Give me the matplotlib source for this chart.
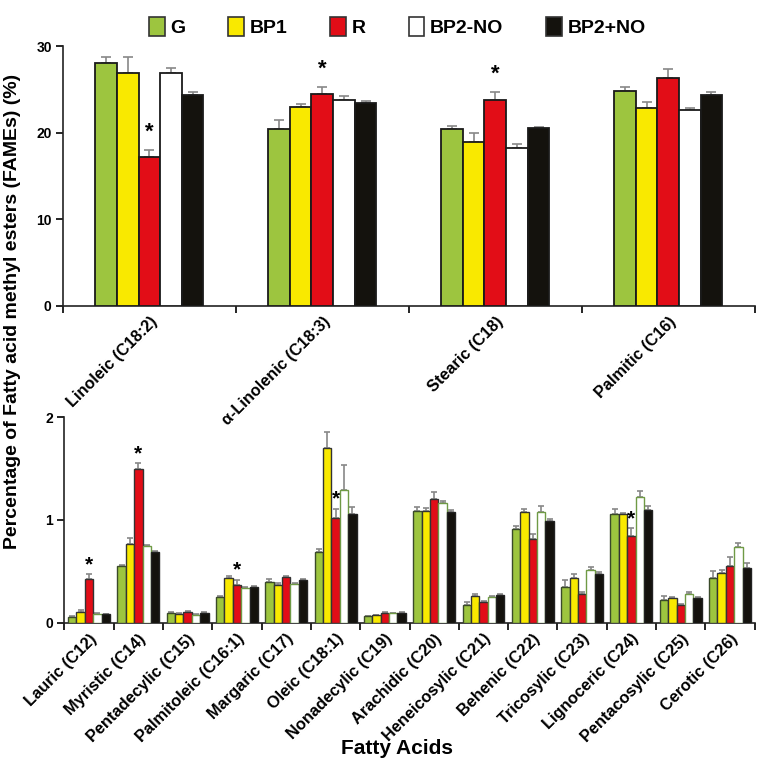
import numpy as np
import matplotlib.pyplot as plt
from matplotlib.patches import Patch

plt.rcParams['font.family'] = ['Liberation Sans', 'DejaVu Sans']
plt.rcParams['font.weight'] = 'bold'

groups = ['G', 'BP1', 'R', 'BP2-NO', 'BP2+NO']
colors = ['#9dc53f', '#f9e900', '#e20d17', '#ffffff', '#14120d']

# --- major fatty acids (top panel) ---
major_acids = ['Linoleic (C18:2)', 'α-Linolenic (C18:3)', 'Stearic (C18)', 'Palmitic (C16)']
major_vals = {
    'G':      [28.0, 20.4, 20.4, 24.8],
    'BP1':    [26.9, 23.0, 18.9, 22.8],
    'R':      [17.2, 24.5, 23.8, 26.3],
    'BP2-NO': [26.9, 23.8, 18.2, 22.6],
    'BP2+NO': [24.3, 23.4, 20.5, 24.4],
}
major_err = {
    'G':      [0.7, 1.1, 0.4, 0.5],
    'BP1':    [1.8, 0.3, 1.0, 0.7],
    'R':      [0.8, 0.8, 0.9, 1.0],
    'BP2-NO': [0.6, 0.4, 0.5, 0.3],
    'BP2+NO': [0.4, 0.3, 0.1, 0.3],
}
major_sig = [0, 1, 2]  # R bar marked with *

# --- minor fatty acids (bottom panel) ---
minor_acids = ['Lauric (C12)', 'Myristic (C14)', 'Pentadecylic (C15)', 'Palmitoleic (C16:1)',
               'Margaric (C17)', 'Oleic (C18:1)', 'Nonadecylic (C19)', 'Arachidic (C20)',
               'Heneicosylic (C21)', 'Behenic (C22)', 'Tricosylic (C23)', 'Lignoceric (C24)',
               'Pentacosylic (C25)', 'Cerotic (C26)']
minor_vals = {
    'G':      [0.06, 0.55, 0.10, 0.25, 0.40, 0.69, 0.065, 1.09, 0.17, 0.91, 0.35, 1.06, 0.22, 0.44],
    'BP1':    [0.11, 0.77, 0.09, 0.44, 0.37, 1.70, 0.075, 1.085, 0.26, 1.075, 0.44, 1.055, 0.245, 0.48],
    'R':      [0.43, 1.495, 0.11, 0.37, 0.45, 1.02, 0.10, 1.20, 0.20, 0.815, 0.28, 0.845, 0.175, 0.55],
    'BP2-NO': [0.09, 0.75, 0.08, 0.34, 0.38, 1.29, 0.095, 1.16, 0.25, 1.08, 0.51, 1.22, 0.285, 0.74],
    'BP2+NO': [0.085, 0.69, 0.10, 0.345, 0.42, 1.055, 0.10, 1.08, 0.27, 0.99, 0.475, 1.10, 0.24, 0.53],
}
minor_err = {
    'G':      [0.01, 0.01, 0.005, 0.01, 0.03, 0.03, 0.005, 0.04, 0.03, 0.03, 0.07, 0.05, 0.04, 0.06],
    'BP1':    [0.01, 0.05, 0.005, 0.02, 0.02, 0.15, 0.005, 0.03, 0.02, 0.035, 0.03, 0.01, 0.01, 0.03],
    'R':      [0.04, 0.055, 0.005, 0.05, 0.01, 0.09, 0.005, 0.07, 0.01, 0.045, 0.02, 0.075, 0.005, 0.09],
    'BP2-NO': [0.005, 0.01, 0.005, 0.01, 0.01, 0.24, 0.005, 0.02, 0.01, 0.06, 0.03, 0.06, 0.01, 0.04],
    'BP2+NO': [0.005, 0.01, 0.005, 0.01, 0.01, 0.07, 0.005, 0.02, 0.01, 0.02, 0.015, 0.04, 0.01, 0.05],
}
minor_sig = [0, 1, 3, 5, 11]


def draw_panel(ax, labels, vals, errs, sig, width, edgecolors, ymax, yticks, lw,
               star_off, star_size, label_size, capsize):
    n = len(labels)
    centers = np.arange(n) + 0.5
    for i, g in enumerate(groups):
        x = centers + (i - 2) * width
        ax.bar(x, vals[g], width, color=colors[i], edgecolor=edgecolors[i],
               linewidth=lw, zorder=3)
        ax.errorbar(x, vals[g], yerr=[np.zeros(n), errs[g]], fmt='none',
                    ecolor='#888888', elinewidth=1.2, capsize=capsize, capthick=1.2, zorder=2)
    for j in sig:
        top = vals['R'][j] + errs['R'][j]
        ax.text(centers[j], top + star_off, '*', ha='center', va='center',
                fontsize=star_size, fontweight='bold')
    ax.set_xlim(0, n)
    ax.set_ylim(0, ymax)
    ax.set_yticks(yticks)
    ax.set_yticklabels([str(t) for t in yticks], fontsize=10, fontweight='bold')
    ax.set_xticks(np.arange(n + 1), minor=True)
    ax.set_xticks(centers)
    ax.set_xticklabels(labels, rotation=45, ha='right', rotation_mode='anchor',
                       fontsize=label_size, fontweight='bold')
    ax.tick_params(axis='x', which='major', length=0, pad=6)
    ax.tick_params(axis='x', which='minor', length=5, width=1.2, direction='out')
    ax.tick_params(axis='y', length=5, width=1.2, direction='out', pad=3)
    for s in ['top', 'right']:
        ax.spines[s].set_visible(False)
    for s in ['left', 'bottom']:
        ax.spines[s].set_linewidth(1.2)
        ax.spines[s].set_color('#222222')


fig = plt.figure(figsize=(7.57, 7.68), dpi=100)
ax1 = fig.add_axes([0.083, 0.602, 0.914, 0.338])
ax2 = fig.add_axes([0.085, 0.189, 0.912, 0.268])
ax2.patch.set_alpha(0)
ax1.set_zorder(2)

draw_panel(ax1, major_acids, major_vals, major_err, major_sig, 0.125,
           ['#1a1a1a'] * 5, 30, [0, 10, 20, 30], 1.3, 2.0, 16, 11.7, 3.5)
draw_panel(ax2, minor_acids, minor_vals, minor_err, minor_sig, 0.17,
           ['#3a4a2a', '#333333', '#333333', '#6f9a45', '#222222'], 2, [0, 1, 2], 1.0,
           0.09, 15, 11.8, 2.5)

fig.text(0.017, 0.595, 'Percentage of Fatty acid methyl esters (FAMEs) (%)',
         rotation=90, ha='center', va='center', fontsize=14, fontweight='bold')
fig.text(0.525, 0.026, 'Fatty Acids', ha='center', va='center',
         fontsize=15, fontweight='bold')

handles = [Patch(facecolor=c, edgecolor='#333333', linewidth=1.2, label=g)
           for g, c in zip(groups, colors)]
fig.legend(handles=handles, loc='upper center', bbox_to_anchor=(0.525, 1.0),
           ncol=5, frameon=False, handlelength=0.8, handleheight=1.1,
           handletextpad=0.3, columnspacing=2.2, prop={'weight': 'bold', 'size': 14})

fig.savefig('out.png', dpi=100)
